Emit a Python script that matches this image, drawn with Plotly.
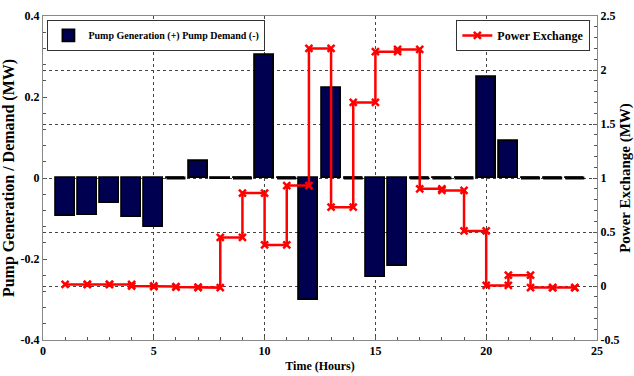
import plotly.graph_objects as go

# ---- data ----
HOURS = list(range(1, 25))
PUMP = [-0.093, -0.091, -0.062, -0.097, -0.122, 0.0, 0.041, -0.003, 0.0, 0.303,
        0.0, -0.301, 0.223, 0.0, -0.245, -0.218, 0.0, 0.0, 0.0, 0.249,
        0.091, 0.0, 0.0, 0.0]
EXCHANGE = [0.015, 0.015, 0.015, 0.0, -0.005, -0.01, -0.015, 0.45, 0.86, 0.38,
            0.93, 2.2, 0.73, 1.70, 2.17, 2.19, 0.90, 0.885, 0.51, 0.005,
            0.10, -0.015, -0.015, -0.015]
X_TICKS = [0, 5, 10, 15, 20, 25]
Y1_TICKS = [-0.4, -0.2, 0, 0.2, 0.4]
Y1_LABELS = ["-0.4", "-0.2", "0", "0.2", "0.4"]
Y2_TICKS = [-0.5, 0, 0.5, 1, 1.5, 2, 2.5]
Y2_LABELS = ["-0.5", "0", "0.5", "1", "1.5", "2", "2.5"]

# stairs path (MATLAB style: vertices at every step corner)
sx, sy = [], []
for i, (h, v) in enumerate(zip(HOURS, EXCHANGE)):
    sx.append(h); sy.append(v)
    if i < len(HOURS) - 1:
        sx.append(HOURS[i + 1]); sy.append(v)

zero_h = [h for h, v in zip(HOURS, PUMP) if v == 0]
zero_v = [0 for _ in zero_h]

FONT = "Liberation Serif, Times New Roman, DejaVu Serif, serif"
BAR_W = 0.86

fig = go.Figure()
fig.add_trace(go.Bar(
    x=HOURS, y=PUMP, width=BAR_W, name="<b>Pump Generation (+) Pump Demand (-)</b>",
    marker=dict(color="#000050", line=dict(color="black", width=1.8)),
    yaxis="y", legend="legend",
))
fig.add_trace(go.Scatter(
    x=zero_h, y=zero_v, mode="markers", showlegend=False, hoverinfo="skip",
    marker=dict(symbol="line-ew", size=13.6, line=dict(color="black", width=3)),
    yaxis="y",
))
fig.add_trace(go.Scatter(
    x=sx, y=sy, mode="lines+markers", name="<b>Power Exchange</b>",
    line=dict(color="#ff0000", width=2.5),
    marker=dict(symbol="x-thin", size=7, color="#ff0000",
                line=dict(color="#ff0000", width=2.5)),
    yaxis="y2", legend="legend2",
))

axis_font = dict(family=FONT, size=12, color="black")
fig.update_layout(
    width=634, height=376,
    margin=dict(l=43, r=37, t=16, b=36, autoexpand=False),
    paper_bgcolor="white", plot_bgcolor="white",
    font=dict(family=FONT, size=12, color="black"),
    bargap=0,
    xaxis=dict(
        range=[0, 25], tickvals=X_TICKS, ticktext=[f"<b>{t}</b>" for t in X_TICKS],
        ticks="inside", ticklen=4, tickcolor="#555",
        minor=dict(tickmode="linear", tick0=0, dtick=1, ticks="inside", ticklen=3, tickcolor="#555", showgrid=False),
        showline=True, linecolor="#888", linewidth=1, mirror=True,
        showgrid=True, gridcolor="#444", griddash="dot", gridwidth=1,
        zeroline=False, tickfont=axis_font, automargin=False,
        title=dict(text="<b>Time (Hours)</b>", font=dict(family=FONT, size=12, color="black"), standoff=4),
    ),
    yaxis=dict(
        range=[-0.4, 0.4], tickvals=Y1_TICKS, ticktext=[f"<b>{t}</b>" for t in Y1_LABELS],
        ticks="inside", ticklen=4, tickcolor="#555",
        minor=dict(tickmode="linear", tick0=0, dtick=0.04, ticks="inside", ticklen=3, tickcolor="#555", showgrid=False),
        showline=True, linecolor="#888", linewidth=1,
        showgrid=False, zeroline=False, tickfont=axis_font, automargin=False,
        title=dict(text="<b>Pump Generation / Demand (MW)</b>", font=dict(family=FONT, size=16, color="black"), standoff=2),
    ),
    yaxis2=dict(
        range=[-0.5, 2.5], overlaying="y", side="right",
        tickvals=Y2_TICKS, ticktext=[f"<b>{t}</b>" for t in Y2_LABELS],
        ticks="inside", ticklen=4, tickcolor="#555",
        minor=dict(tickmode="linear", tick0=0, dtick=0.1, ticks="inside", ticklen=3, tickcolor="#555", showgrid=False),
        showline=True, linecolor="#888", linewidth=1,
        showgrid=True, gridcolor="#444", griddash="dot", gridwidth=1,
        zeroline=False, tickfont=axis_font, automargin=False,
        title=dict(text="<b>Power Exchange (MW)</b>", font=dict(family=FONT, size=15, color="black"), standoff=1),
    ),
    legend=dict(
        x=0.008, y=0.988, xanchor="left", yanchor="top",
        bgcolor="white", bordercolor="#333", borderwidth=1,
        font=dict(family=FONT, size=10, color="black"),
        itemwidth=30, tracegroupgap=0,
    ),
    legend2=dict(
        x=0.988, y=0.988, xanchor="right", yanchor="top",
        bgcolor="white", bordercolor="#333", borderwidth=1,
        font=dict(family=FONT, size=12, color="black"),
        itemwidth=30,
    ),
)

fig.write_html("out.html", config={"displayModeBar": False},
               post_script="document.body.style.margin='0px';document.body.style.padding='0px';")
